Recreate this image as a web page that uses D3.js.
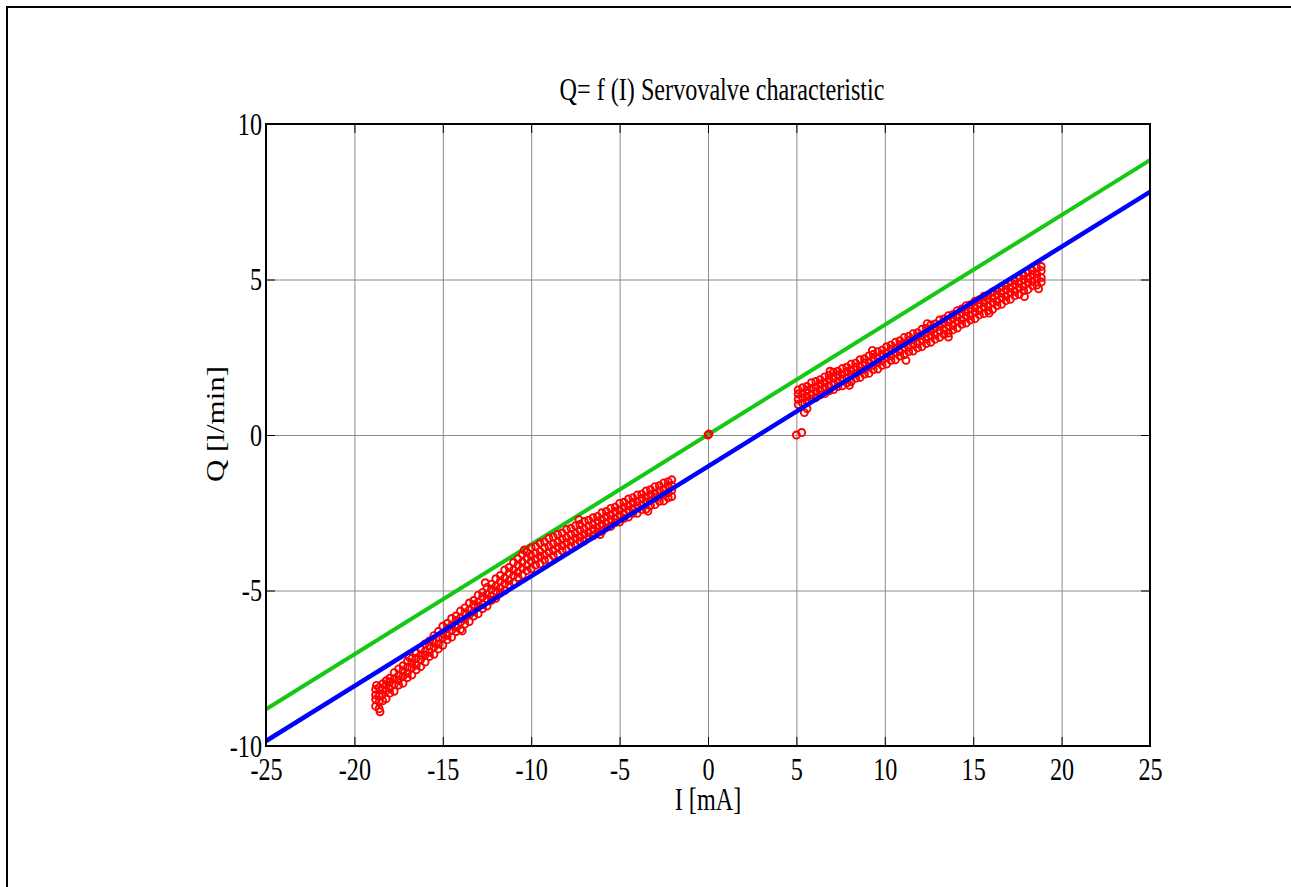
<!DOCTYPE html>
<meta charset="utf-8">
<head>
<style>
body { margin: 0; background: #fff; }
svg text { font-family: "Liberation Serif", "Times New Roman", serif; fill: #000; }
.grid line { stroke: #8a8a8a; stroke-width: 1; }
.grid path { display: none; }
.ticks path { display: none; }
.ticks line { stroke: #000; stroke-width: 1; }
</style>
</head>
<body>
<div id="chart"></div>
<script src="https://d3js.org/d3.v7.min.js"></script>
<script>

// tick values
var xTicks = [-25, -20, -15, -10, -5, 0, 5, 10, 15, 20, 25];
var yTicks = [-10, -5, 0, 5, 10];

// the two reference lines (value at I = -25 and I = 25)
var lineI = [-25, 25];
var greenQ = [-8.82, 8.84];
var blueQ = [-9.84, 7.82];

// measured points, negative current branch: [I, Q, Q, Q, Q]
var negRows = [
  [-18.8, -8.72, -8.5, -8.36, -8.18],
  [-18.6, -8.8, -8.58, -8.4, -8.12],
  [-18.4, -8.55, -8.34, -8.2, -8.0],
  [-18.2, -8.48, -8.22, -8.05, -7.9],
  [-18, -8.3, -8.15, -7.94, -7.82],
  [-17.75, -8.24, -8.02, -7.84, -7.64],
  [-17.5, -8.04, -7.88, -7.74, -7.52],
  [-17.25, -7.98, -7.76, -7.58, -7.42],
  [-17, -7.8, -7.66, -7.47, -7.28],
  [-16.75, -7.72, -7.48, -7.33, -7.18],
  [-16.5, -7.55, -7.4, -7.18, -7.0],
  [-16.25, -7.45, -7.22, -7.08, -6.88],
  [-16, -7.3, -7.08, -6.95, -6.72],
  [-15.75, -7.12, -6.98, -6.78, -6.62],
  [-15.5, -7.05, -6.82, -6.68, -6.45],
  [-15.25, -6.88, -6.72, -6.52, -6.32],
  [-15, -6.76, -6.52, -6.38, -6.15],
  [-14.75, -6.58, -6.44, -6.22, -6.06],
  [-14.5, -6.5, -6.28, -6.12, -5.9],
  [-14.25, -6.32, -6.18, -5.96, -5.82],
  [-14, -6.25, -6.02, -5.88, -5.66],
  [-13.75, -6.08, -5.92, -5.72, -5.56],
  [-13.5, -6.0, -5.78, -5.62, -5.4],
  [-13.25, -5.82, -5.68, -5.46, -5.32],
  [-13, -5.75, -5.52, -5.38, -5.15],
  [-12.75, -5.58, -5.44, -5.2, -5.06],
  [-12.5, -5.5, -5.28, -5.12, -4.9],
  [-12.25, -5.32, -5.18, -4.96, -4.8],
  [-12, -5.25, -5.02, -4.86, -4.62],
  [-11.75, -5.08, -4.92, -4.7, -4.52],
  [-11.5, -5.0, -4.78, -4.6, -4.34],
  [-11.25, -4.82, -4.68, -4.44, -4.26],
  [-11, -4.75, -4.52, -4.34, -4.1],
  [-10.75, -4.58, -4.42, -4.18, -3.98],
  [-10.5, -4.5, -4.28, -4.08, -3.84],
  [-10.25, -4.36, -4.2, -3.96, -3.76],
  [-10, -4.3, -4.06, -3.88, -3.62],
  [-9.75, -4.18, -4.0, -3.8, -3.58],
  [-9.5, -4.14, -3.9, -3.74, -3.48],
  [-9.25, -4.02, -3.86, -3.62, -3.44],
  [-9, -4.0, -3.76, -3.58, -3.32],
  [-8.75, -3.88, -3.72, -3.5, -3.28],
  [-8.5, -3.84, -3.6, -3.44, -3.2],
  [-8.25, -3.72, -3.56, -3.34, -3.15],
  [-8, -3.7, -3.46, -3.3, -3.04],
  [-7.75, -3.58, -3.42, -3.2, -3.0],
  [-7.5, -3.54, -3.32, -3.16, -2.92],
  [-7.25, -3.42, -3.28, -3.06, -2.88],
  [-7, -3.4, -3.18, -3.02, -2.78],
  [-6.75, -3.28, -3.14, -2.92, -2.74],
  [-6.5, -3.24, -3.02, -2.88, -2.66],
  [-6.25, -3.12, -2.98, -2.76, -2.62],
  [-6, -3.1, -2.88, -2.72, -2.5],
  [-5.75, -2.98, -2.84, -2.62, -2.46],
  [-5.5, -2.94, -2.72, -2.58, -2.36],
  [-5.25, -2.82, -2.68, -2.46, -2.32],
  [-5, -2.8, -2.58, -2.42, -2.2],
  [-4.75, -2.68, -2.54, -2.32, -2.16],
  [-4.5, -2.64, -2.42, -2.28, -2.06],
  [-4.25, -2.52, -2.38, -2.17, -2.02],
  [-4, -2.52, -2.28, -2.14, -1.93],
  [-3.75, -2.4, -2.26, -2.04, -1.9],
  [-3.5, -2.38, -2.15, -2.0, -1.8],
  [-3.25, -2.27, -2.12, -1.91, -1.76],
  [-3, -2.24, -2.02, -1.88, -1.66],
  [-2.75, -2.13, -2.0, -1.78, -1.63],
  [-2.5, -2.12, -1.9, -1.76, -1.54],
  [-2.25, -2.02, -1.86, -1.64, -1.5],
  [-2.05, -1.98, -1.78, -1.62, -1.44]
];

// measured points, positive current branch: [I, Q, Q, Q, Q]
var posRows = [
  [5.1, 0.98, 1.15, 1.32, 1.45],
  [5.35, 1.02, 1.2, 1.34, 1.52],
  [5.6, 1.08, 1.24, 1.44, 1.56],
  [5.85, 1.16, 1.3, 1.5, 1.68],
  [6.1, 1.2, 1.4, 1.54, 1.72],
  [6.35, 1.29, 1.44, 1.64, 1.78],
  [6.6, 1.33, 1.53, 1.68, 1.87],
  [6.85, 1.42, 1.57, 1.78, 1.92],
  [7.1, 1.46, 1.67, 1.82, 2.02],
  [7.35, 1.56, 1.71, 1.92, 2.05],
  [7.6, 1.58, 1.8, 1.95, 2.14],
  [7.85, 1.68, 1.83, 2.04, 2.18],
  [8.1, 1.72, 1.94, 2.08, 2.28],
  [8.35, 1.82, 1.97, 2.18, 2.31],
  [8.6, 1.85, 2.06, 2.2, 2.42],
  [8.85, 1.96, 2.1, 2.32, 2.45],
  [9.1, 1.98, 2.2, 2.34, 2.54],
  [9.35, 2.1, 2.24, 2.46, 2.59],
  [9.6, 2.12, 2.34, 2.48, 2.68],
  [9.85, 2.24, 2.38, 2.6, 2.73],
  [10.1, 2.28, 2.5, 2.64, 2.84],
  [10.35, 2.4, 2.54, 2.76, 2.89],
  [10.6, 2.42, 2.64, 2.78, 2.98],
  [10.85, 2.54, 2.68, 2.9, 3.03],
  [11.1, 2.58, 2.8, 2.94, 3.14],
  [11.35, 2.68, 2.82, 3.04, 3.17],
  [11.6, 2.7, 2.92, 3.06, 3.26],
  [11.85, 2.8, 2.94, 3.16, 3.29],
  [12.1, 2.84, 3.06, 3.2, 3.4],
  [12.35, 2.94, 3.08, 3.3, 3.43],
  [12.6, 2.98, 3.2, 3.34, 3.54],
  [12.85, 3.08, 3.22, 3.44, 3.57],
  [13.1, 3.14, 3.36, 3.5, 3.7],
  [13.35, 3.24, 3.38, 3.6, 3.73],
  [13.6, 3.28, 3.5, 3.64, 3.84],
  [13.85, 3.38, 3.52, 3.74, 3.87],
  [14.1, 3.44, 3.66, 3.8, 4.0],
  [14.35, 3.56, 3.7, 3.92, 4.05],
  [14.6, 3.6, 3.82, 3.96, 4.16],
  [14.85, 3.7, 3.84, 4.06, 4.19],
  [15.1, 3.74, 3.96, 4.1, 4.3],
  [15.35, 3.86, 4.0, 4.22, 4.35],
  [15.6, 3.9, 4.12, 4.26, 4.46],
  [15.85, 4.0, 4.14, 4.36, 4.49],
  [16.1, 4.04, 4.26, 4.4, 4.6],
  [16.35, 4.16, 4.3, 4.52, 4.65],
  [16.6, 4.2, 4.42, 4.56, 4.76],
  [16.85, 4.32, 4.46, 4.68, 4.81],
  [17.1, 4.36, 4.58, 4.72, 4.92],
  [17.35, 4.48, 4.62, 4.84, 4.97],
  [17.6, 4.52, 4.74, 4.88, 5.08],
  [17.85, 4.64, 4.78, 5.0, 5.13],
  [18.1, 4.68, 4.9, 5.04, 5.24],
  [18.35, 4.8, 4.94, 5.16, 5.29],
  [18.6, 4.82, 5.04, 5.18, 5.38],
  [18.85, 4.92, 5.06, 5.28, 5.42]
];

// odd points: origin, the jump at 5 mA, a few strays
var extraPts = [
  [0, 0], [0.05, 0.03], [5.0, 0.0], [5.3, 0.08], [5.45, 0.72], [5.6, 0.85],
  [-18.55, -8.9], [-18.75, -8.05], [-10.4, -3.7], [-7.3, -2.72], [-12.6, -4.75],
  [-16.9, -7.15], [-13.9, -6.3], [-6.1, -3.2], [-3.4, -2.45],
  [11.2, 2.4], [13.6, 3.15], [17.9, 4.45], [9.3, 2.72], [6.9, 2.05],
  [8.0, 1.6], [12.4, 3.58], [15.9, 3.92], [18.7, 4.7]
];

var points = [];
negRows.concat(posRows).forEach(function(r) {
  for (var k = 1; k < r.length; k++) points.push([r[0], r[k]]);
});
points = points.concat(extraPts);

var W = 1291, H = 887;
var margin = {top: 124, left: 266},
    width = 884,
    height = 622;
var fontSize = 31, squeeze = 0.78;

var svg = d3.select("#chart")
  .append("svg")
    .attr("width", W)
    .attr("height", H);

svg.append("rect").attr("width", W).attr("height", H).attr("fill", "#fff");

// frame lines top and left
svg.append("line").attr("x1", 6).attr("x2", W).attr("y1", 7).attr("y2", 7)
  .attr("stroke", "#000").attr("stroke-width", 2);
svg.append("line").attr("x1", 7).attr("x2", 7).attr("y1", 6).attr("y2", H)
  .attr("stroke", "#000").attr("stroke-width", 2);

var canvas = svg.append("g")
    .attr("transform", "translate(" + margin.left + "," + margin.top + ")");

var x = d3.scaleLinear().domain([-25, 25]).range([0, width]);
var y = d3.scaleLinear().domain([-10, 10]).range([height, 0]);

// plain hyphen, like the original
var fmt = function(d) { return String(d); };

// grid
canvas.append("g").attr("class", "grid")
  .attr("transform", "translate(0," + height + ")")
  .call(d3.axisBottom(x).tickValues(xTicks).tickSize(-height).tickFormat(""));
canvas.append("g").attr("class", "grid")
  .call(d3.axisLeft(y).tickValues(yTicks).tickSize(-width).tickFormat(""));

// inward ticks on all four sides
var tl = 9;
var xAxis = canvas.append("g").attr("class", "ticks")
  .attr("transform", "translate(0," + height + ")")
  .call(d3.axisBottom(x).tickValues(xTicks).tickSizeInner(-tl).tickSizeOuter(0).tickFormat(fmt));
canvas.append("g").attr("class", "ticks")
  .call(d3.axisTop(x).tickValues(xTicks).tickSizeInner(-tl).tickSizeOuter(0).tickFormat(""));
var yAxis = canvas.append("g").attr("class", "ticks")
  .call(d3.axisLeft(y).tickValues(yTicks).tickSizeInner(-tl).tickSizeOuter(0).tickFormat(fmt));
canvas.append("g").attr("class", "ticks")
  .attr("transform", "translate(" + width + ",0)")
  .call(d3.axisRight(y).tickValues(yTicks).tickSizeInner(-tl).tickSizeOuter(0).tickFormat(""));

xAxis.selectAll("text")
  .attr("y", 34).attr("dy", null)
  .attr("font-size", fontSize)
  .attr("transform", "scale(" + squeeze + ",1)");
yAxis.selectAll("text")
  .attr("x", -4 / squeeze).attr("y", 10).attr("dy", null)
  .attr("font-size", fontSize)
  .attr("transform", "scale(" + squeeze + ",1)");

// lines
var line = d3.line()
  .x(function(d) { return x(d[0]); })
  .y(function(d) { return y(d[1]); });

canvas.append("path")
  .datum(lineI.map(function(v, i) { return [v, greenQ[i]]; }))
  .attr("d", line)
  .attr("fill", "none").attr("stroke", "#14c814").attr("stroke-width", 4);

// markers
canvas.append("g")
  .selectAll("circle")
  .data(points)
  .enter()
  .append("circle")
    .attr("cx", function(d) { return x(d[0]); })
    .attr("cy", function(d) { return y(d[1]); })
    .attr("r", 3.5)
    .attr("fill", "none")
    .attr("stroke", "#ff0000")
    .attr("stroke-width", 1.9);

canvas.append("path")
  .datum(lineI.map(function(v, i) { return [v, blueQ[i]]; }))
  .attr("d", line)
  .attr("fill", "none").attr("stroke", "#0000ff").attr("stroke-width", 4.5);

// axes box
canvas.append("rect")
  .attr("width", width).attr("height", height)
  .attr("fill", "none").attr("stroke", "#000").attr("stroke-width", 2);

// titles
canvas.append("text")
  .attr("transform", "translate(" + (width / 2 + 14) + ",-24) scale(" + squeeze + ",1)")
  .attr("text-anchor", "middle")
  .attr("font-size", fontSize)
  .text("Q= f (I) Servovalve characteristic");

canvas.append("text")
  .attr("transform", "translate(" + (width / 2) + "," + (height + 64) + ") scale(" + squeeze + ",1)")
  .attr("text-anchor", "middle")
  .attr("font-size", fontSize)
  .text("I [mA]");

canvas.append("text")
  .attr("transform", "translate(-42," + (height / 2 - 11) + ") rotate(-90) scale(1," + squeeze + ")")
  .attr("text-anchor", "middle")
  .attr("font-size", fontSize)
  .text("Q [l/min]");

</script>
</body>
</html>
